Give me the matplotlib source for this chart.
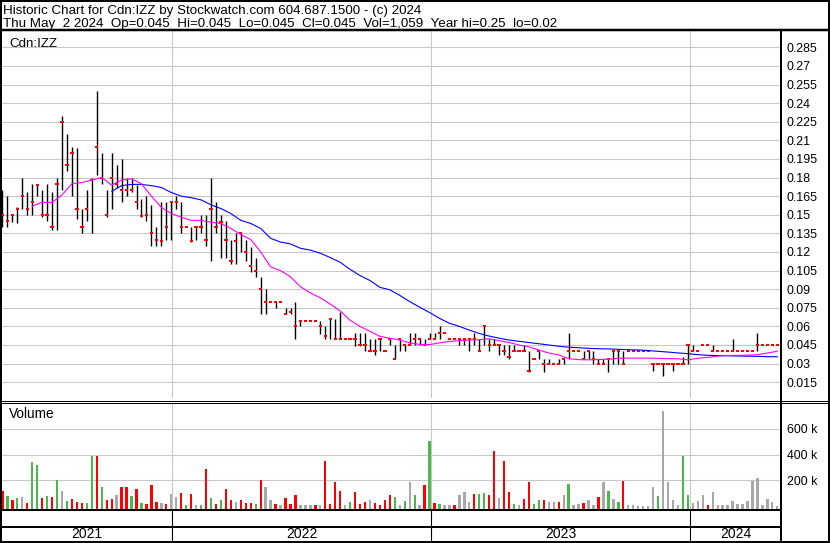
import pandas as pd
import matplotlib
matplotlib.use("Agg")
import matplotlib.pyplot as plt
import matplotlib.dates as mdates
from matplotlib.lines import Line2D

plt.rcParams["font.family"] = ["Liberation Sans", "DejaVu Sans"]

W, H = 830, 543

# Weekly bars (Friday of each week).
week_end = pd.date_range("2021-05-07", "2024-05-03", freq="7D")

high = [.170, .165, .150, .156, .180, .168, .175, .175, .170, .175,
        .168, .180, .230, .215, .205, .204, .155, .170, .180, .250,
        .200, .170, .200, .190, .195, .180, .180, .174, .163, .165,
        .158, .140, .160, .160, .160, .165, .160, .140, .140, .140,
        .150, .150, .180, .160, .150, .145, .130, .135, .135, .130,
        .124, .115, .100, .090, .080, .080, .080, .075, .075, .080,
        .064, .064, .064, .064, .064, .060, .066, .066, .072, .050,
        .050, .055, .055, .055, .050, .050, .050, .040, .050, .045,
        .050, .045, .055, .055, .050, .050, .055, .055, .060, .055,
        .050, .050, .050, .050, .050, .055, .050, .060, .050, .050,
        .045, .045, .045, .045, .040, .045, .040, .034, .040, .034,
        .034, .030, .034, .034, .055, .040, .040, .040, .040, .040,
        .034, .034, .034, .040, .040, .040, .040, .040, .040, .040,
        .040, .030, .030, .030, .030, .030, .030, .035, .045, .045,
        .040, .045, .045, .045, .040, .040, .040, .050, .040, .040,
        .040, .040, .055, .045, .045, .045, .045]
low = [.140, .140, .144, .143, .155, .150, .150, .165, .148, .145,
       .138, .138, .170, .185, .165, .147, .135, .145, .135, .182,
       .175, .148, .155, .172, .160, .165, .168, .155, .148, .145,
       .125, .125, .125, .130, .130, .155, .135, .140, .128, .130,
       .135, .125, .113, .135, .115, .115, .110, .110, .120, .113,
       .104, .100, .070, .070, .080, .075, .080, .070, .070, .050,
       .060, .064, .064, .064, .054, .050, .050, .050, .050, .050,
       .050, .044, .044, .040, .040, .037, .040, .040, .045, .034,
       .040, .040, .045, .045, .045, .045, .050, .050, .050, .055,
       .050, .050, .045, .045, .040, .045, .040, .045, .040, .045,
       .037, .037, .034, .040, .040, .040, .0235, .034, .034, .0235,
       .030, .030, .030, .030, .034, .040, .040, .034, .034, .030,
       .030, .030, .0235, .030, .030, .030, .040, .040, .040, .040,
       .040, .024, .030, .020, .030, .024, .030, .030, .030, .040,
       .040, .045, .045, .040, .040, .040, .040, .040, .040, .040,
       .040, .040, .040, .045, .045, .045, .045]
close = [.150, .145, .150, .155, .165, .155, .160, .174, .150, .150,
         .140, .175, .225, .190, .200, .155, .140, .155, .178, .205,
         .180, .150, .180, .175, .170, .170, .170, .160, .149, .150,
         .135, .130, .129, .140, .160, .160, .140, .140, .129, .140,
         .140, .130, .155, .140, .144, .130, .113, .129, .135, .120,
         .109, .105, .090, .080, .080, .080, .080, .070, .072, .060,
         .064, .064, .064, .064, .060, .052, .066, .050, .050, .050,
         .050, .050, .045, .045, .040, .040, .050, .040, .050, .034,
         .050, .045, .045, .050, .050, .045, .050, .050, .055, .055,
         .050, .050, .050, .050, .050, .050, .040, .060, .045, .045,
         .045, .040, .035, .040, .040, .040, .024, .034, .040, .030,
         .030, .030, .030, .034, .040, .040, .040, .034, .040, .034,
         .030, .030, .034, .040, .040, .030, .040, .040, .040, .040,
         .040, .030, .030, .030, .030, .030, .030, .030, .045, .040,
         .040, .045, .045, .040, .040, .040, .040, .040, .040, .040,
         .040, .040, .045, .045, .045, .045, .045]

# biggest daily volume of each week, in thousands of shares
volume_k = [118, 80, 45, 65, 70, 20, 340, 315, 60, 75,
            70, 200, 120, 40, 55, 30, 20, 25, 392, 390,
            150, 45, 55, 85, 150, 150, 80, 135, 20, 15,
            165, 35, 20, 15, 95, 70, 100, 10, 97, 10,
            10, 285, 60, 15, 46, 131, 46, 30, 46, 20,
            21, 15, 200, 144, 50, 15, 10, 64, 15, 85,
            8, 8, 5, 5, 8, 346, 15, 187, 120, 10,
            30, 110, 15, 33, 46, 25, 10, 46, 85, 72,
            10, 40, 185, 85, 10, 160, 508, 25, 15, 5,
            5, 5, 85, 110, 35, 95, 92, 102, 85, 431,
            60, 346, 110, 15, 10, 56, 185, 15, 46, 46,
            33, 33, 28, 85, 172, 10, 15, 25, 46, 10,
            69, 185, 118, 55, 35, 198, 5, 5, 3, 3,
            3, 145, 78, 738, 185, 46, 10, 392, 85, 20,
            40, 85, 5, 110, 5, 5, 5, 40, 15, 15,
            40, 193, 215, 10, 56, 35, 1]
# g = up day, r = down day, n = unchanged
vol_dir = ("rgrgnrggrg" "rgngrrrggr" "grrnrrgrgr" "rrnrnnrgrn"
           "grgrgrrnrr" "rgrnnrnrrr" "nnnrnrrrrn" "grrrnrrrrg"
           "ngngnrgrgn" "nrnnnrggrr" "nrrgnrrggr" "nnrngnnrnn"
           "rngngrnnnn" "nngnnnnggn" "nnrnnnnnnn" "nnnnnnn")

# moving averages, sampled every second week
ma_short = [.157, .160, .160, .166, .175, .176, .178, .180, .174, .178,
            .179, .175, .165, .156, .151, .148, .1455, .1455, .144, .143,
            .139, .134, .130, .120, .108, .105, .100, .092, .087, .083,
            .078, .0725, .065, .060, .056, .052, .0505, .049, .0467, .0455,
            .0453, .0467, .0478, .0485, .049, .0493, .050, .0485, .047, .045,
            .0435, .041, .0385, .037, .034, .0332, .033, .0333, .0335, .0343,
            .0344, .0344, .0344, .0342, .034, .0339, .033, .0343, .035, .036,
            .0366, .0366, .0368, .0372, .0385, .040]
ma_long = [.169, .1735, .1745, .1745, .1735, .172, .168, .165, .1638, .162,
           .158, .155, .151, .1455, .143, .139, .131, .128, .1265, .123,
           .1215, .119, .1155, .1117, .106, .101, .097, .0915, .0895, .085,
           .080, .0755, .0712, .0665, .0625, .060, .057, .0543, .0522, .0505,
           .049, .048, .047, .046, .045, .044, .0432, .0428, .0423, .042,
           .0418, .0415, .0412, .041, .0405, .0399, .0393, .0386, .038, .0372,
           .0367, .0365, .0363, .0361, .036, .0358, .0356, .0355]
ma_short_dates = week_end[6::2]
ma_long_dates = week_end[22::2]

price_labels = ["0.015", "0.03", "0.045", "0.06", "0.075", "0.09", "0.105",
                "0.12", "0.135", "0.15", "0.165", "0.18", "0.195", "0.21",
                "0.225", "0.24", "0.255", "0.27", "0.285"]
volume_labels = ["200 k", "400 k", "600 k"]
years = ["2021", "2022", "2023", "2024"]

header1 = "Historic Chart for Cdn:IZZ by Stockwatch.com 604.687.1500 - (c) 2024"
header2 = ("Thu May  2 2024  Op=0.045  Hi=0.045  Lo=0.045  Cl=0.045  "
           "Vol=1,059  Year hi=0.25  lo=0.02")

# ---- layout, in pixels of the 830x543 image
fig = plt.figure(figsize=(W / 100, H / 100), dpi=100)
fig.patch.set_facecolor("white")


def fx(x):
    return x / W


def fy(y):
    return 1 - y / H


def rule(x0, y0, x1, y1, px=2):
    fig.add_artist(Line2D([fx(x0), fx(x1)], [fy(y0), fy(y1)],
                          transform=fig.transFigure, color="black",
                          lw=px * 0.72, solid_capstyle="butt"))


year_starts = [pd.Timestamp("2022-01-01"), pd.Timestamp("2023-01-01"),
               pd.Timestamp("2024-01-01")]
d22, d24 = mdates.date2num(year_starts[0]), mdates.date2num(year_starts[2])
ppd = (690 - 172) / (d24 - d22)          # pixels per day
xlim = (d22 - (172 - 2) / ppd, d24 + (780 - 690) / ppd)

grid_kw = dict(color="#c8c8c8", lw=0.75)
FS = 8.9

ax_p = fig.add_axes([fx(2), fy(398), 778 / W, (398 - 31) / H])
ax_v = fig.add_axes([fx(2), fy(509), 778 / W, (509 - 403) / H])
ax_d = fig.add_axes([fx(2), fy(541), 778 / W, (541 - 510) / H])

for ax in (ax_p, ax_v, ax_d):
    ax.set_xlim(*xlim)
    for s in ax.spines.values():
        s.set_visible(False)
    ax.set_xticks(mdates.date2num(year_starts))
    ax.set_xticklabels([])
    ax.tick_params(axis="x", length=0)

# ---- price panel
xs = mdates.date2num(week_end)
ax_p.set_ylim(0.00226, 0.2982)
ax_p.set_yticks([float(t) for t in price_labels])
ax_p.set_yticklabels(price_labels, fontsize=FS)
ax_p.yaxis.tick_right()
ax_p.tick_params(axis="y", length=0, pad=5)
ax_p.grid(True, **grid_kw)
ax_p.set_axisbelow(True)

ax_p.vlines(xs, low, high, color="black", lw=1.0, zorder=2)
ax_p.hlines(close, xs - 2.3, xs + 2.3, color="red", lw=1.45, zorder=2)
ax_p.plot(ma_long_dates, ma_long, color="#0000ff", lw=0.8, zorder=3)
ax_p.plot(ma_short_dates, ma_short, color="#ff00ff", lw=0.8, zorder=3)
fig.text(fx(9), fy(46.5), "Cdn:IZZ", fontsize=9.6, va="baseline")

# ---- volume panel
colors = {"g": "#4cb84c", "r": "#ff0000", "n": "#a8a8a8"}
vol_floor = -23000
ax_v.set_ylim(vol_floor, 800000)
ax_v.set_yticks([200000, 400000, 600000])
ax_v.set_yticklabels(volume_labels, fontsize=FS)
ax_v.yaxis.tick_right()
ax_v.tick_params(axis="y", length=0, pad=5)
ax_v.grid(True, **grid_kw)
ax_v.set_axisbelow(True)
vols = [v * 1000 - vol_floor for v in volume_k]
ax_v.bar(xs, vols, bottom=vol_floor, width=3.3,
         color=[colors[c] for c in vol_dir], zorder=2)
fig.text(fx(9), fy(418), "Volume", fontsize=9.8, va="baseline")

# ---- year band
ax_d.set_ylim(0, 1)
ax_d.set_yticks([])
ax_d.vlines(mdates.date2num(year_starts), 0, 1, color="black", lw=0.8)
edges = [xlim[0]] + list(mdates.date2num(year_starts)) + [xlim[0] + 779 / ppd]
for i, yr in enumerate(years):
    ax_d.text((edges[i] + edges[i + 1]) / 2, 0.22, yr, ha="center",
              va="center", fontsize=10)

# ---- frame
rule(0, 1, 830, 1)
rule(1, 0, 1, 543)
rule(829, 0, 829, 543)
rule(0, 542, 830, 542)
rule(0, 30, 830, 30, 2.5)
rule(781, 30, 781, 542)
rule(0, 400.5, 830, 400.5, 1)
rule(0, 402.5, 830, 402.5, 1)
rule(0, 509.5, 781, 509.5)
rule(0, 527, 781, 527)

fig.text(fx(3), fy(14), header1, fontsize=9.6, va="baseline")
fig.text(fx(3), fy(27), header2, fontsize=9.6, va="baseline")

fig.savefig("out.png", dpi=100, facecolor="white")
